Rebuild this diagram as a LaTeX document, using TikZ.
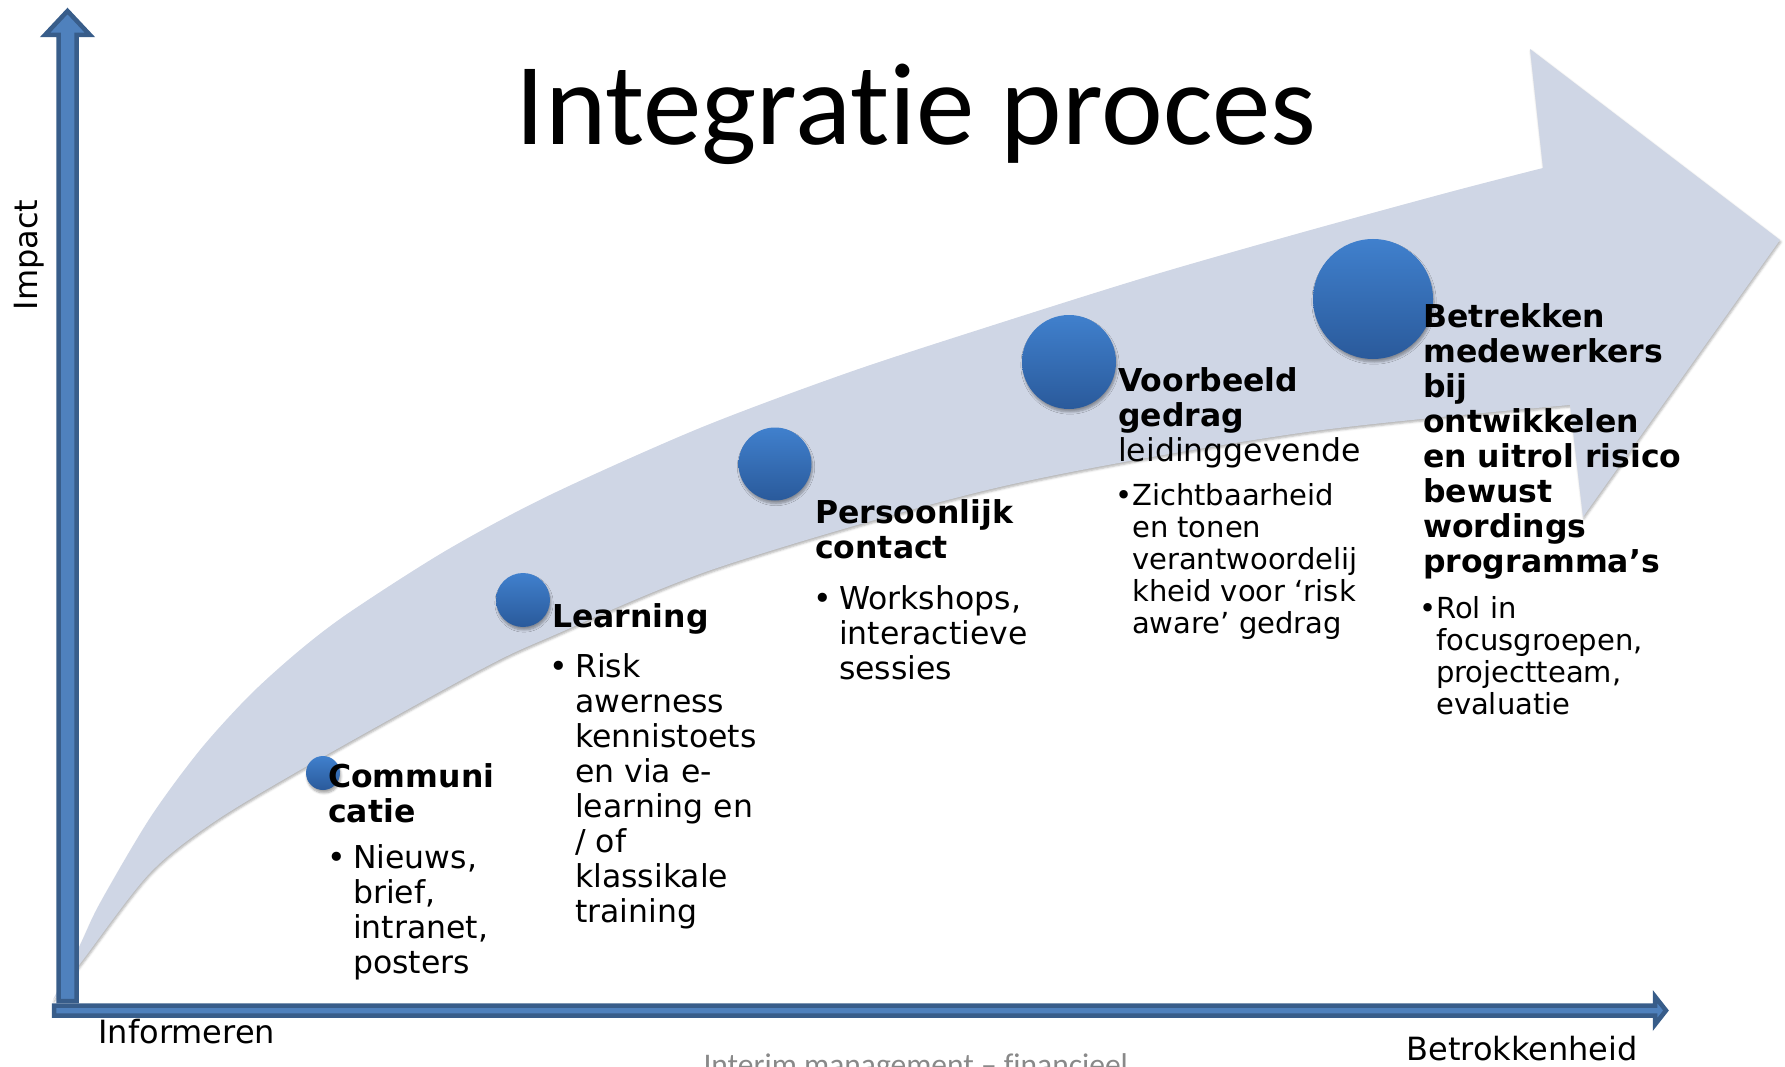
\documentclass[tikz,border=0pt]{standalone}
\usepackage{fontspec}
\setmainfont{DejaVu Sans}
\newfontfamily\titelfont[Ligatures=NoCommon]{Carlito}
\usetikzlibrary{shadows.blur}

\definecolor{asblauw}{RGB}{79,129,189}
\definecolor{asrand}{RGB}{56,93,138}
\definecolor{bandgrijs}{RGB}{207,214,229}
\definecolor{boltop}{RGB}{64,128,205}
\definecolor{bolbodem}{RGB}{42,90,155}
\definecolor{voetgrijs}{RGB}{137,137,137}

\begin{document}
\begin{tikzpicture}[x=1pt,y=-1pt,
    bol/.style={circle, inner sep=0pt, top color=boltop, bottom color=bolbodem,
      blur shadow={shadow xshift=1pt, shadow yshift=-3pt, shadow blur steps=6, shadow opacity=35}},
    kop/.style={align=left, inner sep=0pt, anchor=base west, font=\fontsize{31.5}{35}\selectfont\bfseries},
    punt/.style={align=left, inner sep=0pt, anchor=base west, font=\fontsize{31.5}{35}\selectfont},
    sub/.style={align=left, inner sep=0pt, anchor=base west, font=\fontsize{29}{32}\selectfont},
    as/.style={fill=asblauw, draw=asrand, line width=4.5pt, line join=miter}]
    \useasboundingbox (0,0) rectangle (1785,1067);

    % gebogen pijl
    \fill[bandgrijs, blur shadow={shadow xshift=1pt, shadow yshift=-2pt, shadow blur steps=4, shadow opacity=30}]
        plot[smooth] coordinates {(53,1000) (83,960) (150,873) (217,820) (323,757) (480,670) (550,637) (720,567) (1000,487) (1300,433) (1570,405)}
        -- (1583,517) -- (1780,240) -- (1530,49) -- (1543,168)
        -- plot[smooth] coordinates {(1543,168) (1450,192) (1300,233) (1150,276) (1000,323) (850,372) (700,428) (550,495) (447,550) (350,612) (300,650) (250,695) (200,750) (150,818) (100,903) (80,945) (53,1000)}
        -- cycle;

    % assen
    \filldraw[as] (58.5,1001) -- (58.5,35) -- (45,35) -- (67.5,11) -- (90,35) -- (76.5,35) -- (76.5,1001) -- cycle;
    \filldraw[as] (54,1005.5) -- (1655,1005.5) -- (1655,996.5) -- (1666,1010.5) -- (1655,1024.5) -- (1655,1015.5) -- (54,1015.5) -- cycle;

    \node[rotate=90, anchor=base, font=\fontsize{32}{38}\selectfont] (impact) at (37,255) {Impact};
    \node[anchor=base west, font=\fontsize{32}{38}\selectfont] (inform) at (95,1043) {Informeren};
    \node[anchor=base west, font=\fontsize{32}{38}\selectfont] (betrok) at (1403,1060) {Betrokkenheid};

    \node[anchor=base, font=\titelfont\fontsize{117}{130}\selectfont] (titel) at (916,145) {Integratie proces};
    \node[anchor=base west, text=voetgrijs, font=\titelfont\fontsize{31.5}{36}\selectfont] (voet) at (700,1075) {Interim management – financieel};

    % bollen
    \node[bol, minimum size=34pt] (b1) at (323,773) {};
    \node[bol, minimum size=54pt] (b2) at (523,600) {};
    \node[bol, minimum size=73pt] (b3) at (775,464) {};
    \node[bol, minimum size=94pt] (b4) at (1069,362) {};
    \node[bol, minimum size=120pt] (b5) at (1373,299) {};

    % stappen (base = laatste regel)
    \node[kop] (t1) at (328,822) {Communi\\catie};
    \node[punt] (p1) at (353,973) {\llap{\textbullet\hspace{7pt}}Nieuws,\\brief,\\intranet,\\posters};

    \node[kop] (t2) at (552,627) {Learning};
    \node[punt] (p2) at (575,922) {\llap{\textbullet\hspace{7pt}}Risk\\awerness\\kennistoets\\en via e-\\learning en\\/ of\\klassikale\\training};

    \node[kop] (t3) at (815,558) {Persoonlijk\\contact};
    \node[punt] (p3) at (839,679) {\llap{\textbullet\hspace{7pt}}Workshops,\\interactieve\\sessies};

    \node[kop] (t4) at (1118,461) {Voorbeeld\\gedrag\\\mdseries leidinggevende};
    \node[sub] (p4) at (1132,633) {\llap{\textbullet}Zichtbaarheid\\en tonen\\verantwoordelij\\kheid voor `risk\\aware' gedrag};

    \node[kop] (t5) at (1423,572) {Betrekken\\medewerkers\\bij\\ontwikkelen\\en uitrol risico\\bewust\\wordings\\programma's};
    \node[sub] (p5) at (1436,714) {\llap{\textbullet}Rol in\\focusgroepen,\\projectteam,\\evaluatie};
\end{tikzpicture}
\end{document}
